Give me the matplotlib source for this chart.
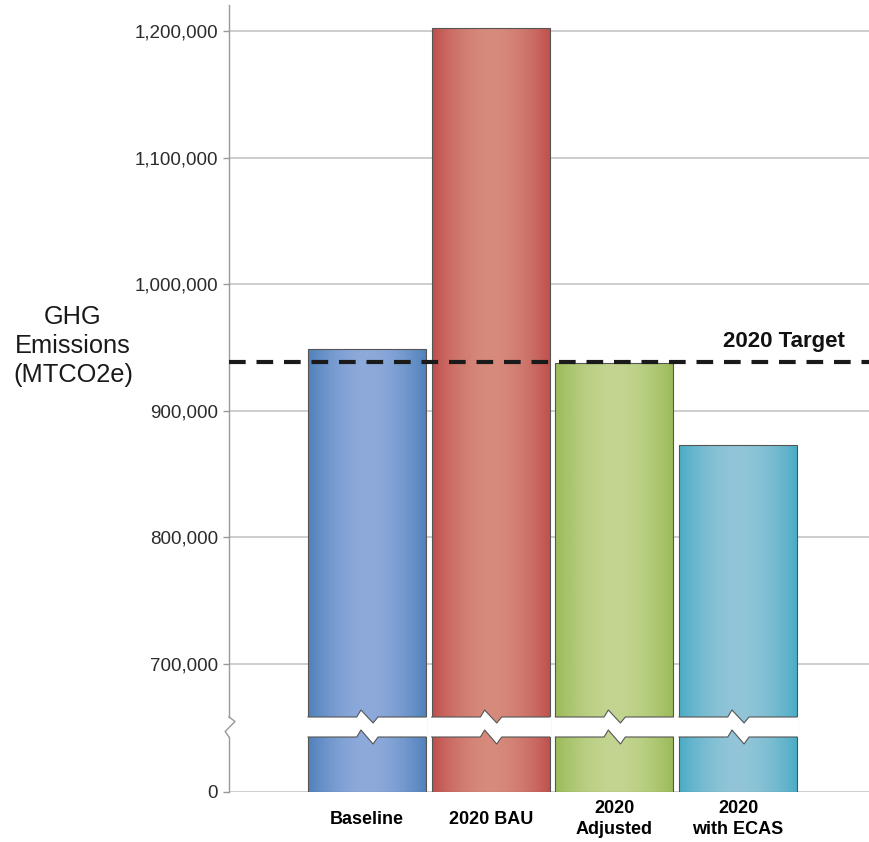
import numpy as np
import matplotlib
matplotlib.use("Agg")
import matplotlib.pyplot as plt
from matplotlib.ticker import FuncFormatter

plt.rcParams['font.family'] = ['Liberation Sans', 'DejaVu Sans']

# data
categories = ['Baseline', '2020 BAU', '2020\nAdjusted', '2020\nwith ECAS']
emissions = [949000, 1202500, 937500, 873000]
target = 939000
yticks = [0, 700000, 800000, 900000, 1000000, 1100000, 1200000]

edge_cols = ['#4f81bd', '#c0504d', '#9bbb59', '#4bacc6']
light_cols = ['#8eaadb', '#d78b7d', '#c3d590', '#92c5d8']

# broken axis: values below BREAK_LO squeezed, gap up to BREAK_HI
BREAK_LO = 600000
BREAK_HI = 658000
PX = 0.001265          # pixels per unit above the break
v_pts = np.array([0, BREAK_LO, BREAK_HI, 2.5e6])
t_pts = np.array([0, 55, 75, 75 + (2.5e6 - BREAK_HI) * PX])


def fwd(v):
    return np.interp(v, v_pts, t_pts)


def inv(t):
    return np.interp(t, t_pts, v_pts)


def hex2rgb(h):
    h = h.lstrip('#')
    return np.array([int(h[i:i + 2], 16) / 255 for i in (0, 2, 4)])


fig = plt.figure(figsize=(8.69, 8.42), dpi=100)
ax = fig.add_axes([229 / 869, 50 / 842, 640 / 869, 787 / 842])
ax.set_yscale('function', functions=(fwd, inv))
ax.set_ylim(0, inv(787))
ax.set_xlim(-1.116, 4.059)

x = np.arange(len(categories))
width = 0.954

bars = ax.bar(x, emissions, width, color=edge_cols, edgecolor='none', zorder=2)
s = np.linspace(-1, 1, 256)
w = np.abs(s) ** 1.8
for bar, ec, lc in zip(bars, edge_cols, light_cols):
    grad = hex2rgb(lc)[None, :] * (1 - w[:, None]) + hex2rgb(ec)[None, :] * w[:, None]
    x0 = bar.get_x()
    im = ax.imshow(grad[None, :, :], extent=[x0, x0 + width, 0, bar.get_height()],
                   aspect='auto', zorder=2.1, interpolation='bilinear')
    im.set_clip_path(bar)
ax.bar(x, emissions, width, fill=False, edgecolor='#555555', linewidth=0.8, zorder=2.2)

# white break band with the zigzag notch
for xi in x:
    x0, x1 = xi - width / 2, xi + width / 2
    nx = [xi - 0.083, xi - 0.049, xi + 0.049, xi + 0.089]
    up_x = [x0, nx[0], nx[1], nx[2], nx[3], x1]
    up_t = [75, 75, 82, 69, 75, 75]
    lo_t = [55, 55, 62, 48, 55, 55]
    px_ = [x0 - 0.012] + up_x[1:-1] + [x1 + 0.012]
    poly_x = px_ + px_[::-1]
    poly_y = inv(np.array(up_t + lo_t[::-1], dtype=float))
    ax.fill(poly_x, poly_y, color='white', zorder=3, linewidth=0)
    ax.plot(up_x, inv(np.array(up_t, dtype=float)), color='#555555', lw=0.8, zorder=3.1)
    ax.plot(up_x, inv(np.array(lo_t, dtype=float)), color='#555555', lw=0.8, zorder=3.1)

# target line
ax.axhline(target, color='#1a1a1a', lw=3, dashes=(4, 2.6), zorder=4)
ax.annotate('2020 Target', xy=(0.9625, target), xycoords=ax.get_yaxis_transform(),
            xytext=(0, 10.5), textcoords='offset points', ha='right', va='baseline',
            fontsize=16, fontweight='bold', color='#111111')

# axes styling
for side in ['top', 'right', 'bottom', 'left']:
    ax.spines[side].set_visible(False)
yt = ax.get_yaxis_transform()
ax.plot([0, 0], [0, inv(55)], color='#999999', lw=1, transform=yt, clip_on=False)
ax.plot([0, -0.006, 0.0094, 0], inv(np.array([55, 60.5, 70.5, 75.0])),
        color='#999999', lw=1, transform=yt, clip_on=False)
ax.plot([0, 0], [inv(75), inv(787)], color='#999999', lw=1, transform=yt, clip_on=False)

ax.set_yticks(yticks)
ax.yaxis.set_major_formatter(FuncFormatter(lambda v, p: f'{int(round(v)):,}'))
ax.tick_params(axis='y', length=4.3, width=1, color='#999999', pad=3.6,
               labelsize=13.5, labelcolor='#2b2b2b')
ax.grid(axis='y', color='#c0c0c0', lw=1.1)
ax.set_axisbelow(True)

ax.set_xticks(x, categories)
ax.tick_params(axis='x', length=0, pad=19.5, labelsize=13)
for lab in ax.get_xticklabels():
    lab.set_fontweight('bold')
    lab.set_va('center')
    lab.set_linespacing(1.3)

fig.text(73 / 869, 1 - 346 / 842, 'GHG\nEmissions\n(MTCO2e)', ha='center', va='center',
         fontsize=18.3, linespacing=1.25, color='#1a1a1a')

fig.savefig('out.png', dpi=100)
